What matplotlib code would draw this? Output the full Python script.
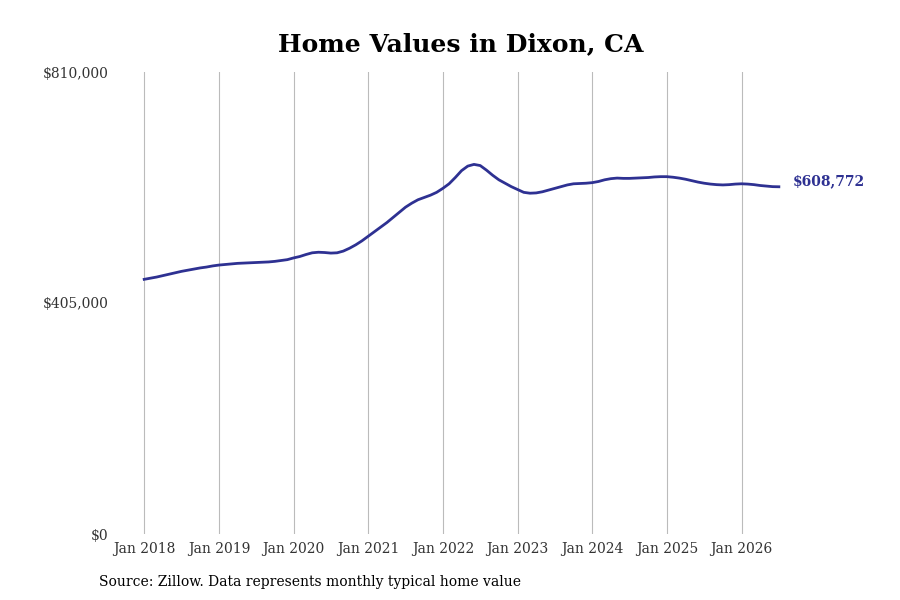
import numpy as np
import matplotlib
matplotlib.use('Agg')
from matplotlib import pyplot as plt
from matplotlib.ticker import FuncFormatter

# monthly typical home value, Jan 2018 .. Jul 2026
values_2018 = [446500, 448500, 450500, 453000, 455500, 458000, 460500, 462500, 464500, 466500, 468000, 470000]
values_2019 = [471500, 472500, 473500, 474500, 475000, 475500, 476000, 476500, 477000, 478000, 479500, 481000]
values_2020 = [484000, 486500, 490000, 493000, 494000, 493500, 492500, 493000, 496000, 501000, 507000, 514000]
values_2021 = [522000, 530000, 538000, 546000, 555000, 564000, 573000, 580000, 586000, 590000, 594000, 599000]
values_2022 = [606000, 614000, 625000, 637000, 645000, 648000, 646000, 638000, 629000, 621000, 615000, 609000]
values_2023 = [604000, 599000, 597500, 598000, 600000, 603000, 606000, 609000, 612000, 614000, 614500, 615000]
values_2024 = [616000, 618000, 621000, 623000, 624000, 623500, 623500, 624000, 624500, 625000, 626000, 626500]
values_2025 = [626500, 625500, 624000, 622000, 619500, 617000, 615000, 613500, 612500, 612000, 612500, 613500]
values_2026 = [614000, 613500, 612500, 611000, 610000, 609000, 608772]

values = (values_2018 + values_2019 + values_2020 + values_2021 + values_2022
          + values_2023 + values_2024 + values_2025 + values_2026)
years = list(range(2018, 2027))
tick_labels = ['Jan %d' % y for y in years]
y_ticks = [0, 405000, 810000]

line_color = '#2e3192'

fig = plt.figure(figsize=(9, 6), dpi=100)
ax = fig.add_axes([0.128, 0.11, 0.745, 0.77])

months = np.arange(len(values))
ax.plot(months, values, color=line_color, linewidth=2)

ax.set_xlim(-4.66, 103.1)
ax.set_ylim(0, 810000)
ax.set_xticks([12 * i for i in range(len(years))])
ax.set_xticklabels(tick_labels, family='DejaVu Serif', fontsize=10, color='#333333')
ax.set_yticks(y_ticks)
ax.yaxis.set_major_formatter(FuncFormatter(lambda v, p: '${:,.0f}'.format(v)))
for lab in ax.get_yticklabels():
    lab.set_family('DejaVu Serif')
    lab.set_fontsize(10)
    lab.set_color('#333333')
ax.tick_params(axis='both', length=0, pad=6)
ax.tick_params(axis='y', pad=5)
ax.grid(axis='x', color='#bbbbbb', linewidth=0.8)
ax.set_axisbelow(True)
for s in ax.spines.values():
    s.set_visible(False)

ax.annotate('${:,}'.format(values[-1]), xy=(months[-1], values[-1]), xytext=(10, 4),
            textcoords='offset points', va='center', ha='left', fontsize=10,
            family='DejaVu Serif', fontweight='bold', color=line_color)

fig.text(0.512, 0.927, 'Home Values in Dixon, CA', ha='center', va='center',
         family='DejaVu Serif', fontweight='bold', fontsize=18)
fig.text(0.11, 0.03, 'Source: Zillow. Data represents monthly typical home value',
         ha='left', va='center', family='DejaVu Serif', fontsize=10)

fig.savefig('out.png', dpi=100)
